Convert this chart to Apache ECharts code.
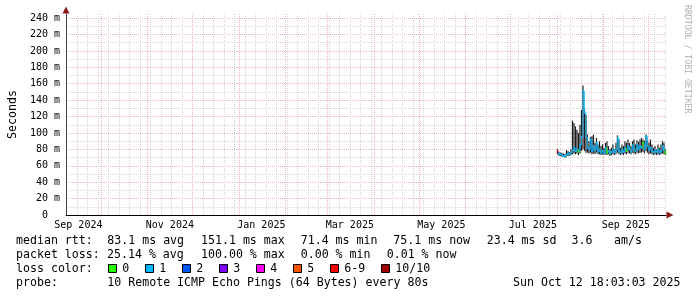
<!DOCTYPE html>
<html><head><meta charset="utf-8">
<script src="https://cdn.jsdelivr.net/npm/echarts@6/dist/echarts.min.js"></script>
<style>html,body{margin:0;padding:0;background:#fff}#c{width:697px;height:297px}</style>
</head><body><div id="c"></div>
<script>
// ---- data (values in milliseconds) ----
const days = ['2025-08-01','2025-08-02','2025-08-03','2025-08-04','2025-08-05','2025-08-06','2025-08-07','2025-08-08','2025-08-09','2025-08-10',
'2025-08-11','2025-08-12','2025-08-13','2025-08-14','2025-08-15','2025-08-16','2025-08-17','2025-08-18','2025-08-19','2025-08-20',
'2025-08-21','2025-08-22','2025-08-23','2025-08-24','2025-08-25','2025-08-26','2025-08-27','2025-08-28','2025-08-29','2025-08-30',
'2025-08-31','2025-09-01','2025-09-02','2025-09-03','2025-09-04','2025-09-05','2025-09-06','2025-09-07','2025-09-08','2025-09-09',
'2025-09-10','2025-09-11','2025-09-12','2025-09-13','2025-09-14','2025-09-15','2025-09-16','2025-09-17','2025-09-18','2025-09-19',
'2025-09-20','2025-09-21','2025-09-22','2025-09-23','2025-09-24','2025-09-25','2025-09-26','2025-09-27','2025-09-28','2025-09-29',
'2025-09-30','2025-10-01','2025-10-02','2025-10-03','2025-10-04','2025-10-05','2025-10-06','2025-10-07','2025-10-08','2025-10-09',
'2025-10-10','2025-10-11','2025-10-12'];
const median = [77,74,74,73,72,71.4,73,75,74,76, 79,82,78,80,77,85,95,151.1,125,95, 82,80,92,78,84,79,88,77,80,76,
 78,75,82,76,78,75,77,80,76,79, 94,78,76,80,77,82,78,84,80,77, 85,81,78,86,80,84,82,88,80,96, 84,79,82,78,76,79,77,80,76,78, 84,79,75.1];
const smokeLow = [74,72,72,71,71,70,71,72,72,73, 74,75,74,75,73,75,78,80,78,76, 76,75,76,74,75,74,76,74,74,73,
 74,73,74,73,74,72,73,74,73,74, 76,74,73,74,73,75,74,76,75,74, 76,75,74,76,75,76,76,77,75,78, 76,74,75,74,73,74,73,74,73,74, 75,74,73];
const smokeHigh = [80,77,76,76,75,74,79,78,77,80, 115,112,108,104,100,110,128,158,130,122, 98,90,95,96,98,88,94,86,90,84,
 86,82,88,90,84,80,82,86,80,88, 97,92,82,86,84,90,88,92,88,84, 90,92,86,91,89,92,94,92,90,98, 90,88,92,86,82,84,80,86,82,86, 90,88,80];
const lossCount = [7,1,1,1,1,1,1,1,1,1, 1,1,1,1,0,1,1,1,1,1, 1,1,1,1,1,1,1,1,1,1,
 1,1,1,0,1,1,1,1,1,1, 1,1,1,1,1,1,0,1,1,1, 1,1,1,1,1,1,1,0,1,1, 1,1,1,1,1,1,1,1,1,1, 1,1,0];

const yTickLabels = [0,20,40,60,80,100,120,140,160,180,200,220,240];
const yMinorTicks = [0,10,20,30,40,50,60,70,80,90,100,110,120,130,140,150,160,170,180,190,200,210,220,230,240];
const monthGrid = ['2024-10-01','2024-11-01','2024-12-01','2025-01-01','2025-02-01','2025-03-01','2025-04-01',
 '2025-05-01','2025-06-01','2025-07-01','2025-08-01','2025-09-01','2025-10-01'];
const monthLabels = ['2024-09-16','2024-11-16','2025-01-16','2025-03-16','2025-05-16','2025-07-16','2025-09-16'];
const firstWeekLine = '2024-09-08';
const rangeStart = '2024-09-07T18:03:03Z';
const rangeEnd = '2025-10-12T18:03:03Z';

const lossLegend = ['0','1','2','3','4','5','6-9','10/10'];
const lossColors = ['#26ff00','#00b8ff','#0059ff','#7e00ff','#ff00ff','#ff5500','#ff0000','#a10000'];

const line1 = ['median rtt:','83.1 ms avg','151.1 ms max','71.4 ms min','75.1 ms now','23.4 ms sd','3.6','am/s'];
const line2 = ['packet loss:','25.14 % avg','100.00 % max','0.00 % min','0.01 % now'];
const line3 = 'loss color:';
const line4 = ['probe:','10 Remote ICMP Echo Pings (64 Bytes) every 80s'];
const stamp = 'Sun Oct 12 18:03:03 2025';
const yName = 'Seconds';
const watermark = 'RRDTOOL / TOBI OETIKER';

// ---- build ----
const DAY = 86400000;
const t0 = Date.parse(rangeStart), t1 = Date.parse(rangeEnd);
const weekGrid = [];
for (let t = Date.parse(firstWeekLine); t <= t1; t += 7 * DAY) weekGrid.push(t);
const monthGridMs = monthGrid.map(d => Date.parse(d));
const monthLabelMs = monthLabels.map(d => Date.parse(d));
const MON = ['Jan','Feb','Mar','Apr','May','Jun','Jul','Aug','Sep','Oct','Nov','Dec'];
const MONO = '"DejaVu Sans Mono", monospace';

function lossIdx(n) { return n <= 5 ? n : (n < 10 ? 6 : 7); }

const smokeData = days.map((d, i) => [Date.parse(d), smokeLow[i], smokeHigh[i]]);
const medData = days.map((d, i) => [Date.parse(d), median[i], lossCount[i]]);

const graphic = [];
function txt(x, y, s, extra) {
  graphic.push(Object.assign({type:'text', x:x, y:y, silent:true,
    style:{text:s, fontFamily:MONO, fontSize:11.6, fill:'#000', align:'left', verticalAlign:'middle'}}, extra || {}));
}
const x1 = [16,107.3,201,300.7,393.3,486.7,571.6,614];
line1.forEach((s,i)=>txt(x1[i],241,s));
const x2 = [16,107,201,300.7,386.7];
line2.forEach((s,i)=>txt(x2[i],255,s));
txt(16,269,line3);
let bx = 108.3;
lossLegend.forEach((lab,i)=>{
  graphic.push({type:'rect', silent:true, shape:{x:Math.round(bx)+0.5, y:264.5, width:8, height:8},
    style:{fill:lossColors[i], stroke:'#000', lineWidth:1}});
  txt(bx+14, 269, lab);
  bx = bx + 14 + 7*lab.length + 16;
});
txt(16,283,line4[0]);
txt(107.3,283,line4[1]);
graphic.push({type:'text', x:680.5, y:283, silent:true,
  style:{text:stamp, fontFamily:MONO, fontSize:11.6, fill:'#000', align:'right', verticalAlign:'middle'}});
graphic.push({type:'text', x:687.5, y:5, rotation:-Math.PI/2, silent:true,
  style:{text:watermark, fontFamily:MONO, fontSize:8.2, fill:'#b0b0b0', align:'left', verticalAlign:'middle'}});

const gridLineMinor = {show:true, lineStyle:{color:'#d6d6d6', width:1, type:[1,1]}};
const gridLineMajor = {show:true, lineStyle:{color:'#efb4b4', width:1, type:[1,1]}};
const arrowColor = '#8b1a1a';

const option = {
  animation:false,
  backgroundColor:'#fff',
  grid:{left:66, top:14, width:600, height:201, containLabel:false, outerBoundsMode:'none'},
  xAxis:[
    {type:'value', min:t0, max:t1, position:'bottom', gridIndex:0,
     axisLine:{show:true, onZero:false, lineStyle:{color:'#000', width:1}},
     axisTick:{show:false, customValues:weekGrid},
     splitLine:gridLineMinor,
     axisLabel:{show:true, customValues:monthLabelMs, margin:5, color:'#000', fontFamily:MONO, fontSize:10,
       formatter:v=>{const d=new Date(v); return MON[d.getUTCMonth()]+' '+d.getUTCFullYear();}}},
    {type:'value', min:t0, max:t1, position:'bottom', gridIndex:0,
     axisLine:{show:true, onZero:false, symbol:['none','triangle'], symbolSize:[7,7], symbolOffset:[0,4],
       lineStyle:{color:arrowColor, width:0}},
     axisTick:{show:false, customValues:monthGridMs},
     splitLine:gridLineMajor,
     axisLabel:{show:false}}
  ],
  yAxis:[
    {type:'value', min:0, max:245, position:'left', gridIndex:0,
     name:yName, nameLocation:'middle', nameGap:46, nameRotate:90,
     nameTextStyle:{fontFamily:MONO, fontSize:11.6, color:'#000'},
     axisLine:{show:true, onZero:false, lineStyle:{color:'#404040', width:1}},
     axisTick:{show:false, customValues:yMinorTicks},
     splitLine:gridLineMinor,
     axisLabel:{show:true, customValues:yTickLabels, margin:6, color:'#000', fontFamily:MONO, fontSize:10,
       formatter:v=> v===0 ? '0  ' : v+' m'}},
    {type:'value', min:0, max:245, position:'left', gridIndex:0,
     axisLine:{show:true, onZero:false, symbol:['none','triangle'], symbolSize:[7,7], symbolOffset:[0,4],
       lineStyle:{color:arrowColor, width:0}},
     axisTick:{show:false, customValues:yTickLabels},
     splitLine:gridLineMajor,
     axisLabel:{show:false}}
  ],
  graphic:graphic,
  series:[
    {type:'custom', name:'smoke', xAxisIndex:0, yAxisIndex:0, data:smokeData, silent:true,
     renderItem:(params, api)=>{
       const t = api.value(0);
       const lo = api.coord([t, api.value(1)]);
       const hi = api.coord([t, api.value(2)]);
       const w = api.size([DAY,0])[0]*0.8;
       return {type:'rect', shape:{x:lo[0], y:hi[1], width:w, height:lo[1]-hi[1]}, style:{fill:'#1e1e1e'}};
     }},
    {type:'custom', name:'median', xAxisIndex:0, yAxisIndex:0, data:medData, silent:true,
     renderItem:(params, api)=>{
       const i = params.dataIndex;
       const t = api.value(0);
       const p = api.coord([t, api.value(1)]);
       const prev = i>0 ? api.coord([t, median[i-1]]) : p;
       const w = api.size([DAY,0])[0];
       const c = lossColors[lossIdx(api.value(2))];
       return {type:'group', children:[
         {type:'line', shape:{x1:p[0]+0.5, y1:prev[1], x2:p[0]+0.5, y2:p[1]}, style:{stroke:c, lineWidth:0.9}},
         {type:'line', shape:{x1:p[0], y1:p[1], x2:p[0]+w, y2:p[1]}, style:{stroke:c, lineWidth:1.8}}
       ]};
     }}
  ]
};
const chart = echarts.init(document.getElementById('c'));
chart.setOption(option);
</script>
</body></html>
